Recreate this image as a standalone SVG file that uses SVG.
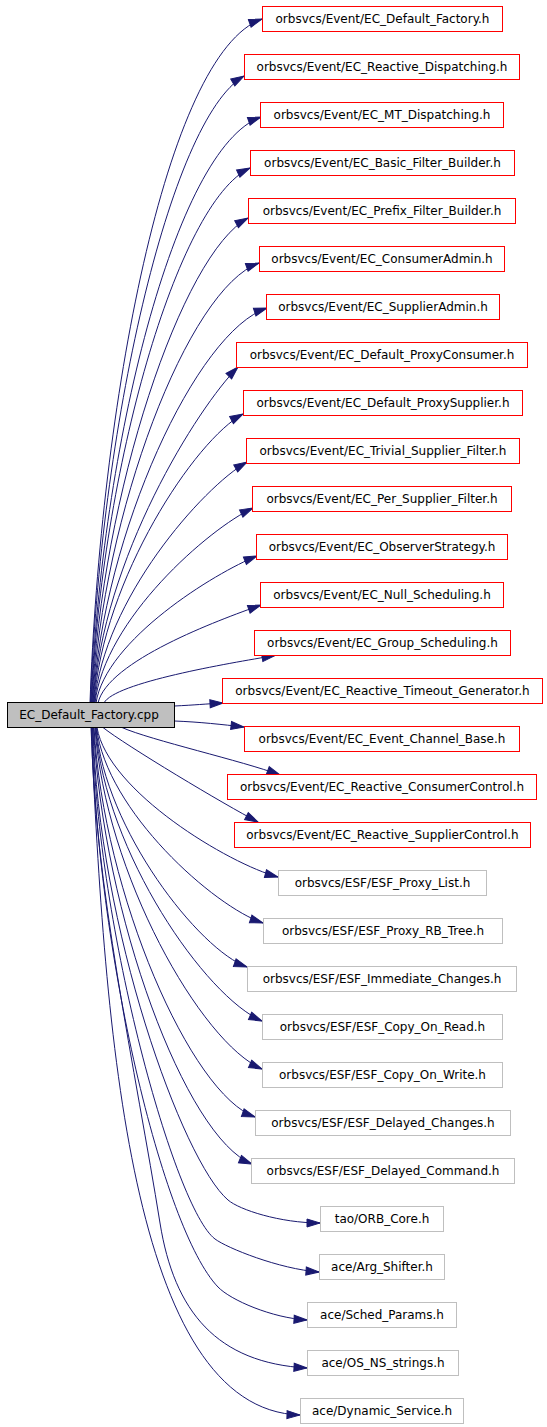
<svg xmlns="http://www.w3.org/2000/svg" width="547" height="1427" viewBox="0 0 547 1427">
<style>
.e{fill:none;stroke:#191970;stroke-width:1;marker-end:url(#arr)}
.r{fill:#ffffff;stroke:#ff0000;stroke-width:1}
.g{fill:#ffffff;stroke:#bfbfbf;stroke-width:1}
.root{fill:#bfbfbf;stroke:#000000;stroke-width:1}
text{font-family:"DejaVu Sans","Liberation Sans",sans-serif;font-size:12px;fill:#000000;text-anchor:middle}
</style>
<defs>
<marker id="arr" markerUnits="userSpaceOnUse" markerWidth="14" markerHeight="10" refX="13" refY="4.5" orient="auto" overflow="visible">
<path d="M0,0.5 L13,4.5 L0,8.5 Z" fill="#191970" stroke="#191970" stroke-width="1"/>
</marker>
</defs>
<g id="connectors">
<path class="e" d="M90,703 C100.3,409 165,53.6 262,19"/>
<path class="e" d="M90.5,703 C99.7,433.4 168.9,119.8 244,76"/>
<path class="e" d="M91,703 C101.2,451 174.2,147.9 261,117"/>
<path class="e" d="M91.5,703 C101,473 176.6,202.3 250,168"/>
<path class="e" d="M92,703 C101.4,494.4 181.9,253.6 248,218"/>
<path class="e" d="M92.5,703 C102.5,513.8 187.8,288.4 259,263"/>
<path class="e" d="M93,703 C103.4,533 196.5,331.5 267,308"/>
<path class="e" d="M93.5,703 C102.2,558.5 198,407 238,367"/>
<path class="e" d="M94,703 C102.9,578.7 195.3,439.5 243,414"/>
<path class="e" d="M94.5,703 C103.7,599.4 202.6,487.3 247,462"/>
<path class="e" d="M95,703 C104.5,619.1 209.1,528.5 253,508"/>
<path class="e" d="M96,703 C105.7,639.8 215.1,572.7 257,556"/>
<path class="e" d="M98,703 C107.8,660.9 218,620.3 261,605"/>
<path class="e" d="M104,703 C114.3,682.6 227.8,663.4 275,655.5"/>
<path class="e" d="M174.5,706 C195,705 205,704 223,703"/>
<path class="e" d="M174.5,721 C200,722 222,724.5 244,727"/>
<path class="e" d="M122,727.5 C150,740 243,761 280,775"/>
<path class="e" d="M103,727.5 C125,745 225,805 258,822"/>
<path class="e" d="M97,727.5 C107.9,791.5 229,863.9 278,877"/>
<path class="e" d="M96.5,727.5 C106.5,811.3 214.4,906.8 263,923"/>
<path class="e" d="M96,727.5 C105.1,830.2 199.5,950.1 247,967"/>
<path class="e" d="M95.5,727.5 C105.5,853.4 205.9,997 262,1021"/>
<path class="e" d="M95,727.5 C105,874 201.3,1043 262,1069"/>
<path class="e" d="M94,727.5 C103.7,894.7 190.7,1094.1 255,1117"/>
<path class="e" d="M93.5,727.5 C103,914.9 185.6,1137.4 252,1164"/>
<path class="e" d="M93,727.5 C98,927 182.4,1161 228,1200 C239.4,1209.8 280,1223 320,1223"/>
<path class="e" d="M92.5,727.5 C97,930 175,1209 215,1239 C227,1248 279,1269 319,1272"/>
<path class="e" d="M92,727.5 C96,950 162.8,1229.4 218,1287 C230.4,1300 272,1318 307,1320"/>
<path class="e" d="M91.5,727.5 C93,877 136.3,1075 160,1223 C174.2,1311.8 217,1363 307,1368"/>
<path class="e" d="M91,727.5 C105,1030 130,1410 300,1415"/>
</g>
<g id="root"><rect class="root" x="7.5" y="702.5" width="167" height="25"/><text x="89" y="719">EC_Default_Factory.cpp</text></g>
<g id="n1"><rect class="r" x="262.5" y="6.5" width="240" height="25"/><text x="382.5" y="22.7">orbsvcs/Event/EC_Default_Factory.h</text></g>
<g id="n2"><rect class="r" x="244.5" y="54.5" width="275" height="25"/><text x="382" y="70.7">orbsvcs/Event/EC_Reactive_Dispatching.h</text></g>
<g id="n3"><rect class="r" x="260.5" y="102.5" width="243" height="25"/><text x="382" y="118.7">orbsvcs/Event/EC_MT_Dispatching.h</text></g>
<g id="n4"><rect class="r" x="250.5" y="150.5" width="264" height="25"/><text x="382.5" y="166.7">orbsvcs/Event/EC_Basic_Filter_Builder.h</text></g>
<g id="n5"><rect class="r" x="248.5" y="198.5" width="267" height="25"/><text x="382" y="214.7">orbsvcs/Event/EC_Prefix_Filter_Builder.h</text></g>
<g id="n6"><rect class="r" x="259.5" y="246.5" width="245" height="25"/><text x="382" y="262.7">orbsvcs/Event/EC_ConsumerAdmin.h</text></g>
<g id="n7"><rect class="r" x="266.5" y="294.5" width="233" height="25"/><text x="383" y="310.7">orbsvcs/Event/EC_SupplierAdmin.h</text></g>
<g id="n8"><rect class="r" x="236.5" y="342.5" width="291" height="25"/><text x="382" y="358.7">orbsvcs/Event/EC_Default_ProxyConsumer.h</text></g>
<g id="n9"><rect class="r" x="243.5" y="390.5" width="279" height="25"/><text x="383" y="406.7">orbsvcs/Event/EC_Default_ProxySupplier.h</text></g>
<g id="n10"><rect class="r" x="246.5" y="438.5" width="273" height="25"/><text x="383" y="454.7">orbsvcs/Event/EC_Trivial_Supplier_Filter.h</text></g>
<g id="n11"><rect class="r" x="252.5" y="486.5" width="259" height="25"/><text x="382" y="502.7">orbsvcs/Event/EC_Per_Supplier_Filter.h</text></g>
<g id="n12"><rect class="r" x="256.5" y="534.5" width="251" height="25"/><text x="382" y="550.7">orbsvcs/Event/EC_ObserverStrategy.h</text></g>
<g id="n13"><rect class="r" x="260.5" y="582.5" width="243" height="25"/><text x="382" y="598.7">orbsvcs/Event/EC_Null_Scheduling.h</text></g>
<g id="n14"><rect class="r" x="254.5" y="630.5" width="256" height="25"/><text x="382.5" y="646.7">orbsvcs/Event/EC_Group_Scheduling.h</text></g>
<g id="n15"><rect class="r" x="222.5" y="678.5" width="320" height="25"/><text x="382.5" y="694.7">orbsvcs/Event/EC_Reactive_Timeout_Generator.h</text></g>
<g id="n16"><rect class="r" x="244.5" y="726.5" width="275" height="25"/><text x="382" y="742.7">orbsvcs/Event/EC_Event_Channel_Base.h</text></g>
<g id="n17"><rect class="r" x="227.5" y="774.5" width="309" height="25"/><text x="382" y="790.7">orbsvcs/Event/EC_Reactive_ConsumerControl.h</text></g>
<g id="n18"><rect class="r" x="234.5" y="822.5" width="296" height="25"/><text x="382.5" y="838.7">orbsvcs/Event/EC_Reactive_SupplierControl.h</text></g>
<g id="n19"><rect class="g" x="278.5" y="870.5" width="208" height="25"/><text x="382.5" y="886.7">orbsvcs/ESF/ESF_Proxy_List.h</text></g>
<g id="n20"><rect class="g" x="263.5" y="918.5" width="239" height="25"/><text x="383" y="934.7">orbsvcs/ESF/ESF_Proxy_RB_Tree.h</text></g>
<g id="n21"><rect class="g" x="247.5" y="966.5" width="269" height="25"/><text x="382" y="982.7">orbsvcs/ESF/ESF_Immediate_Changes.h</text></g>
<g id="n22"><rect class="g" x="262.5" y="1014.5" width="240" height="25"/><text x="382.5" y="1030.7">orbsvcs/ESF/ESF_Copy_On_Read.h</text></g>
<g id="n23"><rect class="g" x="262.5" y="1062.5" width="240" height="25"/><text x="382.5" y="1078.7">orbsvcs/ESF/ESF_Copy_On_Write.h</text></g>
<g id="n24"><rect class="g" x="255.5" y="1110.5" width="255" height="25"/><text x="383" y="1126.7">orbsvcs/ESF/ESF_Delayed_Changes.h</text></g>
<g id="n25"><rect class="g" x="251.5" y="1158.5" width="263" height="25"/><text x="383" y="1174.7">orbsvcs/ESF/ESF_Delayed_Command.h</text></g>
<g id="n26"><rect class="g" x="320.5" y="1206.5" width="123" height="25"/><text x="382" y="1222.7">tao/ORB_Core.h</text></g>
<g id="n27"><rect class="g" x="319.5" y="1254.5" width="125" height="25"/><text x="382" y="1270.7">ace/Arg_Shifter.h</text></g>
<g id="n28"><rect class="g" x="307.5" y="1302.5" width="149" height="25"/><text x="382" y="1318.7">ace/Sched_Params.h</text></g>
<g id="n29"><rect class="g" x="307.5" y="1350.5" width="151" height="25"/><text x="383" y="1366.7">ace/OS_NS_strings.h</text></g>
<g id="n30"><rect class="g" x="300.5" y="1398.5" width="163" height="25"/><text x="382" y="1414.7">ace/Dynamic_Service.h</text></g>
</svg>
